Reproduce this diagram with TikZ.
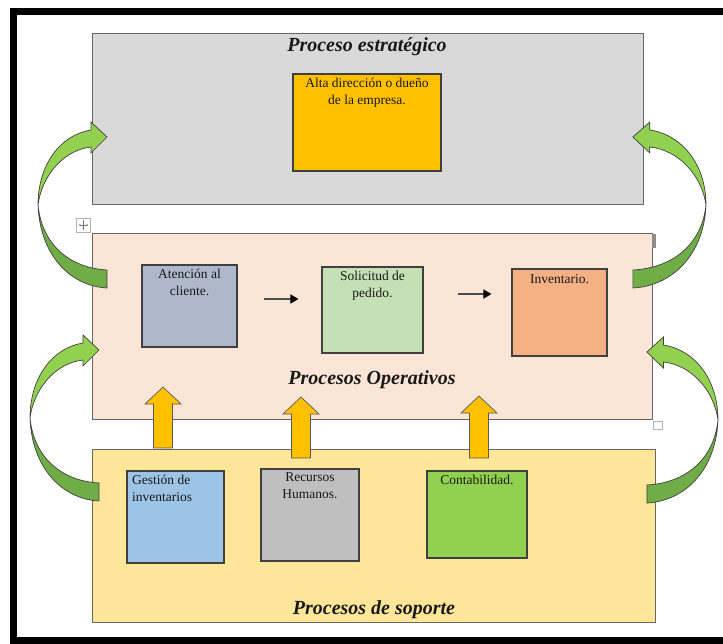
\documentclass[tikz,border=0pt]{standalone}
\usepackage{fontspec}
\setmainfont{Liberation Serif}
\usepackage{tikz}
\usetikzlibrary{arrows.meta}

\definecolor{grisfondo}{HTML}{D9D9D9}
\definecolor{rosado}{HTML}{FBE5D6}
\definecolor{amarillo}{HTML}{FFE699}
\definecolor{naranja}{HTML}{FFC000}
\definecolor{azulgris}{HTML}{ADB9CA}
\definecolor{verdepalo}{HTML}{C5E0B4}
\definecolor{salmon}{HTML}{F4B183}
\definecolor{celeste}{HTML}{9DC3E6}
\definecolor{grismedio}{HTML}{BFBFBF}
\definecolor{verdeclaro}{HTML}{92D050}
\definecolor{verdeoscuro}{HTML}{70AD47}

\tikzset{curva/.pic={
  \filldraw[fill=verdeoscuro, draw=black!75, line width=0.7pt] (69,65) -- (69,83) .. controls (32,81) and (2,50) .. (0,0) .. controls (4,40) and (32,63) .. (69,65) -- cycle;
  \filldraw[fill=verdeclaro, draw=black!75, line width=0.7pt] (0,0) .. controls (0,-40) and (22,-70) .. (53,-75) -- (53,-83) -- (69,-68) -- (53,-52) -- (53,-58) .. controls (26,-55) and (4,-30) .. (0,0) -- cycle;
}}

\begin{document}
\begin{tikzpicture}[x=1pt,y=-1pt,
  zona/.style={draw=black!60, line width=0.9pt, inner sep=0pt},
  caja/.style={draw=black!75, line width=1.1pt, inner sep=0pt},
  texto/.style={font=\fontsize{13.5}{16.5}\selectfont, text=black!90, align=center, inner sep=1.5pt, yshift=-3pt},
  titulo/.style={font=\fontsize{20}{22}\selectfont\bfseries\itshape, text=black!90, inner sep=0pt},
  flecha/.style={draw=black!70, line width=1.4pt, -{Triangle[length=8pt,width=9pt,fill=black,color=black]}},
  subida/.style={fill=naranja, draw=black!65, line width=0.7pt}]
\useasboundingbox (0,0) rectangle (723,644);
\draw[line width=7pt] (13.5,12) rectangle (735,640);

% grandes zonas
\node[zona, fill=grisfondo, minimum width=551pt, minimum height=171pt] (estrategico) at (367.5,118.5) {};
\node[zona, fill=rosado, minimum width=560pt, minimum height=186pt] (operativo) at (372,326) {};
\node[zona, fill=amarillo, minimum width=563pt, minimum height=173pt] (soporte) at (373.5,535.5) {};
\fill[black!45] (652,234) rectangle (655.5,248);
\node[draw=black!30, fill=white, minimum width=9pt, minimum height=8pt, inner sep=0pt] (tirador) at (657.5,425.5) {};
\node[draw=black!30, fill=white, minimum size=14pt, inner sep=0pt] (asa) at (83.5,225) {};
\draw[black!55, line width=0.5pt, {Stealth[length=2pt]}-{Stealth[length=2pt]}] ([xshift=-5pt]asa.center) -- ([xshift=5pt]asa.center);
\draw[black!55, line width=0.5pt, {Stealth[length=2pt]}-{Stealth[length=2pt]}] ([yshift=-5pt]asa.center) -- ([yshift=5pt]asa.center);

% titulos
\node[titulo] (tEstrategico) at (367,47) {Proceso estratégico};
\node[titulo] (tOperativo) at (372,380) {Procesos Operativos};
\node[titulo] (tSoporte) at (374,610) {Procesos de soporte};

% flechas verdes
\pic at (38,205) {curva};
\pic at (30,418) {curva};
\pic[xscale=-1.06] at (706,205) {curva};
\pic[xscale=-1.03] at (718,420) {curva};

% flechas amarillas
\foreach \x/\punta/\base in {163/387/448, 301/397/458, 479/396/458}
  \filldraw[subida] (\x-9.5,\base) -- (\x-9.5,\punta+17) -- (\x-18,\punta+17) -- (\x,\punta) -- (\x+18,\punta+17) -- (\x+9.5,\punta+17) -- (\x+9.5,\base) -- cycle;

% cajas
\node[caja, fill=naranja, minimum width=148pt, minimum height=97pt] (alta) at (367,122.5) {};
\node[texto, anchor=north] (altaT) at (alta.north) {Alta dirección o dueño\\de la empresa.};

\node[caja, fill=azulgris, minimum width=95pt, minimum height=82pt] (atencion) at (189.5,306) {};
\node[texto, anchor=north] (atencionT) at (atencion.north) {Atención al\\cliente.};
\node[caja, fill=verdepalo, minimum width=101pt, minimum height=86pt] (solicitud) at (372.5,310) {};
\node[texto, anchor=north] (solicitudT) at (solicitud.north) {Solicitud de\\pedido.};
\node[caja, fill=salmon, minimum width=95pt, minimum height=87pt] (inventario) at (559.5,312.5) {};
\node[texto, anchor=north] (inventarioT) at ([yshift=-1pt]inventario.north) {Inventario.};

\draw[flecha, shorten <=26pt, shorten >=23pt] (atencion.east |- 0,299) -- (solicitud.west |- 0,299);
\draw[flecha, shorten <=34pt, shorten >=20pt] (solicitud.east |- 0,294) -- (inventario.west |- 0,294);

\node[caja, fill=celeste, minimum width=97pt, minimum height=92pt] (gestion) at (175.5,517) {};
\node[texto, align=left, anchor=north west] (gestionT) at ([xshift=4pt]gestion.north west) {Gestión de\\inventarios};
\node[caja, fill=grismedio, minimum width=98pt, minimum height=92pt] (recursos) at (310,515) {};
\node[texto, anchor=north] (recursosT) at (recursos.north) {Recursos\\Humanos.};
\node[caja, fill=verdeclaro, minimum width=100pt, minimum height=87pt] (contabilidad) at (477,514.5) {};
\node[texto, anchor=north] (contabilidadT) at (contabilidad.north) {Contabilidad.};
\end{tikzpicture}
\end{document}
